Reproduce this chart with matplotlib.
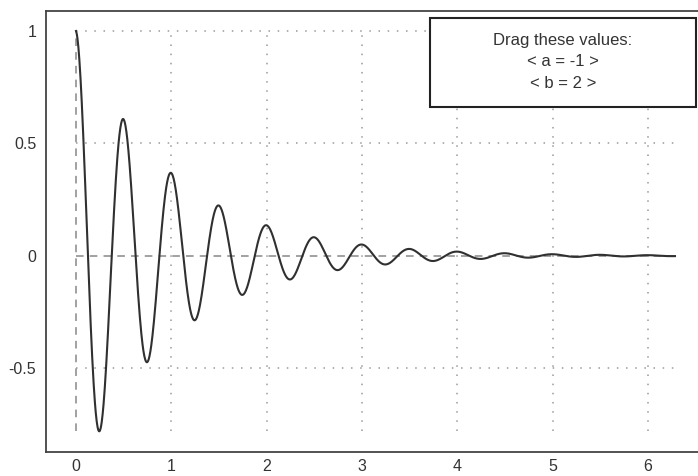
import numpy as np
import matplotlib.pyplot as plt
from matplotlib.patches import Rectangle

plt.rcParams.update({
    "font.family": ["Liberation Sans", "DejaVu Sans"],
    "font.size": 11.5,
})

# parameters shown in the box: y = exp(a x) * cos(2 pi b x)
A_VAL = -1
B_VAL = 2
X_MAX = 2 * np.pi
X_TICKS = [0, 1, 2, 3, 4, 5, 6]
Y_TICKS = [-0.5, 0, 0.5, 1]
Y_TICK_LABELS = ["-0.5", "0", "0.5", "1"]
BOX_LINES = ["Drag these values:", f"< a = {A_VAL} >", f"< b = {B_VAL} >"]

x = np.linspace(0, X_MAX, 2000)
y = np.exp(A_VAL * x) * np.cos(2 * np.pi * B_VAL * x)

W, H = 698, 476
fig = plt.figure(figsize=(W / 100, H / 100), dpi=100)
ax = fig.add_axes([46 / W, (H - 452) / H, 1 - 46 / W, (452 - 11) / H])

px_per_x = (648 - 76) / 6
x_lo = -(76 - 46) / px_per_x
x_hi = x_lo + (W - 46) / px_per_x
px_per_y = (368 - 143) / 1.0
y_hi = 1 + (31 - 11) / px_per_y
y_lo = -0.5 - (452 - 368) / px_per_y
ax.set_xlim(x_lo, x_hi)
ax.set_ylim(y_lo, y_hi)

ymin, ymax = y.min(), y.max()
grid_kw = dict(color="#9a9a9a", linewidth=1.1, linestyle=(0, (1, 5)), zorder=1)
for xt in X_TICKS[1:]:
    ax.vlines(xt, ymin, ymax, **grid_kw)
for yt in Y_TICKS:
    if yt != 0:
        ax.hlines(yt, 0, X_MAX, **grid_kw)
dash_kw = dict(color="#888888", linewidth=1.1, linestyle=(0, (5, 4)), zorder=1)
ax.vlines(0, ymin, ymax, **dash_kw)
ax.hlines(0, 0, X_MAX, **dash_kw)

ax.plot(x, y, color="#303030", linewidth=1.5, zorder=3)

ax.set_xticks(X_TICKS)
ax.set_yticks(Y_TICKS)
ax.set_yticklabels(Y_TICK_LABELS)
ax.tick_params(length=0, colors="#333333")
ax.tick_params(axis="x", pad=5)
ax.tick_params(axis="y", pad=7)
for side in ["left", "top", "bottom"]:
    ax.spines[side].set_color("#444444")
    ax.spines[side].set_linewidth(1.3)
ax.spines["right"].set_visible(False)

# value box in the upper right
bx0, by0, bx1, by1 = 430, 18, 696, 107
fig.patches.append(Rectangle((bx0 / W, 1 - by1 / H), (bx1 - bx0) / W, (by1 - by0) / H,
                             transform=fig.transFigure, facecolor="white",
                             edgecolor="#222222", linewidth=1.5, zorder=5))
for i, line in enumerate(BOX_LINES):
    fig.text(563 / W, 1 - (41 + 21 * i) / H, line, ha="center", va="center",
             fontsize=12, color="#333333", zorder=6)

fig.savefig("out.png", dpi=100, facecolor="white")
